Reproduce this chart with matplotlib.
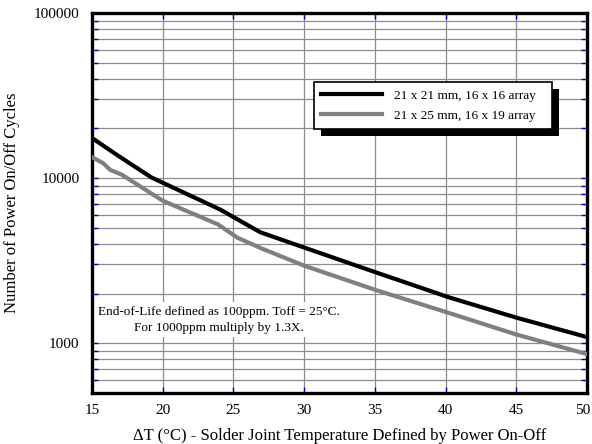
import matplotlib
matplotlib.use("Agg")
import matplotlib.pyplot as plt
from matplotlib.patches import Rectangle
from matplotlib.transforms import IdentityTransform, ScaledTranslation
from matplotlib.ticker import LogLocator, FixedLocator, FuncFormatter, NullFormatter

# data
T_21x21 = [15, 17, 19.2, 24.1, 26.9, 30, 35, 40.3, 45, 50]
N_21x21 = [17500, 13400, 10100, 6430, 4700, 3800, 2700, 1890, 1430, 1090]

T_21x25 = [15, 15.8, 16.3, 17.1, 20, 23.9, 25.3, 27, 30, 35, 40.3, 45, 50]
N_21x25 = [13400, 12300, 11200, 10500, 7300, 5250, 4350, 3750, 2950, 2110, 1520, 1130, 860]

LABELS = ["21 x 21 mm, 16 x 16 array", "21 x 25 mm, 16 x 19 array"]
XTICKS = [15, 20, 25, 30, 35, 40, 45, 50]
NOTE = "End-of-Life defined as 100ppm. Toff = 25\u00b0C.\nFor 1000ppm multiply by 1.3X."

plt.rcParams['font.family'] = ['Liberation Serif', 'DejaVu Serif']

fig = plt.figure(figsize=(5.92, 4.44), dpi=100)
ax = fig.add_axes([0.1554, 0.1149, 0.8362, 0.8558])

ax.plot(T_21x21, N_21x21, color='black', lw=3.0, label=LABELS[0], zorder=3)
ax.plot(T_21x25, N_21x25, color='#808080', lw=3.0, label=LABELS[1], zorder=3)

ax.set_yscale('log')
ax.set_xlim(15, 50)
ax.set_ylim(500, 100000)

ax.xaxis.set_major_locator(FixedLocator(XTICKS))
ax.yaxis.set_major_locator(LogLocator(base=10))
ax.yaxis.set_minor_locator(LogLocator(base=10, subs=range(2, 10)))
ax.yaxis.set_major_formatter(FuncFormatter(lambda v, p: "%d" % v))
ax.yaxis.set_minor_formatter(NullFormatter())

ax.grid(True, which='major', color='#8c8c8c', lw=0.9, zorder=1)
ax.grid(True, which='minor', axis='y', color='#8c8c8c', lw=0.9, zorder=1)
ax.set_axisbelow(True)

ax.tick_params(which='both', direction='in', color='#0000dd', width=1.0,
               top=True, right=True, labelsize=11)
ax.tick_params(axis='x', pad=8)
ax.tick_params(axis='y', pad=9)
ax.tick_params(which='major', length=4)
ax.tick_params(which='minor', length=4)

for s in ax.spines.values():
    s.set_linewidth(2.4)
    s.set_color('black')

ax.set_xlabel("\u0394T (\u00b0C) - Solder Joint Temperature Defined by Power On-Off",
              fontsize=12, labelpad=8)
ax.set_ylabel("Number of Power On/Off Cycles", fontsize=12, labelpad=10)

ax.text(0.257, 0.193, NOTE, transform=ax.transAxes, ha='center', va='center',
        fontsize=9.5, linespacing=1.45, zorder=2,
        bbox=dict(boxstyle='square,pad=0.25', facecolor='white', edgecolor='none'))

leg = ax.legend(loc='upper left', bbox_to_anchor=(0.448, 0.818, 0.481, 0.0),
                mode='expand', fontsize=9.5, frameon=True, fancybox=False,
                edgecolor='black', framealpha=1, handlelength=4.6,
                handletextpad=0.9, labelspacing=0.6, borderpad=0.55,
                borderaxespad=0)
leg.get_frame().set_linewidth(1.2)
leg.set_zorder(6)

# solid black drop shadow behind the legend box
fig.canvas.draw()
bb = leg.get_window_extent()
ax.add_patch(Rectangle((bb.x0 + 7, bb.y0 - 7), bb.width, bb.height,
                       transform=IdentityTransform(), facecolor='black',
                       edgecolor='none', zorder=5.5, clip_on=False))

# nudge the last x label so it stays inside the figure
last = ax.get_xticklabels()[-1]
last.set_transform(last.get_transform() + ScaledTranslation(-3 / 72, 0, fig.dpi_scale_trans))

fig.savefig("out.png", dpi=100)
